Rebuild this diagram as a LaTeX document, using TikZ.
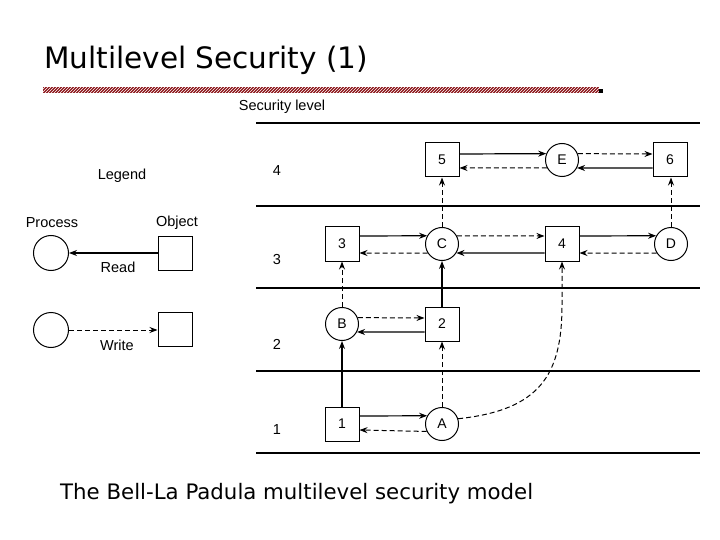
\documentclass[tikz,border=0pt]{standalone}
\usepackage{fontspec}
\setmainfont{Liberation Sans}
\newfontfamily\titlefont{DejaVu Sans}
\usetikzlibrary{arrows.meta,patterns}
\definecolor{barred}{RGB}{140,20,25}
\tikzset{
  box/.style={draw,line width=1pt,minimum size=34pt,inner sep=0pt,font=\fontsize{14}{16}\selectfont},
  proc/.style={draw,circle,line width=1pt,minimum size=33pt,inner sep=0pt,font=\fontsize{14}{16}\selectfont},
  rd/.style={line width=1.2pt,-{Stealth[length=8pt,width=6pt]}},
  wr/.style={line width=1pt,dash pattern=on 5pt off 3pt,-{Stealth[length=8pt,width=6pt]}},
  lvl/.style={line width=1.6pt},
  lab/.style={font=\fontsize{14.5}{16}\selectfont,inner sep=0pt}
}
\begin{document}
\begin{tikzpicture}[x=1pt,y=-1pt]
\useasboundingbox (0,0) rectangle (720,540);
% title
\node[anchor=west,inner sep=0pt,font=\titlefont\fontsize{29.5}{34}\selectfont] (title) at (44,60) {Multilevel Security (1)};
\fill[barred] (43,87) rectangle (599,93);
\fill[pattern=north east lines,pattern color=white] (43,87) rectangle (599,93);
\fill[black] (599,89) rectangle (603,93);
% level lines
\foreach \y in {123,206,288,371,453} \draw[lvl] (256,\y) -- (700,\y);
\node[lab] (sl) at (282,107) {Security level};
\node[lab] (l4) at (277,171) {4};
\node[lab] (l3) at (277,260) {3};
\node[lab] (l2) at (277,344) {2};
\node[lab] (l1) at (277,430) {1};
% legend
\node[lab] (leg) at (122,176) {Legend};
\node[lab] (lp) at (52,223) {Process};
\node[lab] (lo) at (177,223) {Object};
\node[proc,minimum size=35pt] (pc1) at (51,253) {};
\node[box] (ob1) at (175,253) {};
\node[proc,minimum size=35pt] (pc2) at (51,330) {};
\node[box] (ob2) at (175,329) {};
\draw[rd] (ob1.west) -- (pc1.east);
\draw[wr] (pc2.east) -- (pc2.east -| ob2.west);
\node[lab] (lr) at (118,267) {Read};
\node[lab] (lw) at (117,345) {Write};
% nodes
\node[box] (b5) at (442,160) {5};
\node[proc] (E) at (562,160) {E};
\node[box] (b6) at (670,160) {6};
\node[box] (b3) at (342,244) {3};
\node[proc] (C) at (442,244) {C};
\node[box] (b4) at (562,244) {4};
\node[proc] (D) at (671,244) {D};
\node[proc] (B) at (342,324) {B};
\node[box] (b2) at (442,324) {2};
\node[box] (b1) at (342,424) {1};
\node[proc] (A) at (442,424) {A};
% horizontal arrows
\draw[rd] ([yshift=6pt]b5.east) -- (E.158);
\draw[wr] (E.208) -- ([yshift=-8pt]b5.east);
\draw[wr] (E.22) -- ([yshift=6pt]b6.west);
\draw[rd] ([yshift=-8pt]b6.west) -- (E.332);
\draw[rd] ([yshift=8pt]b3.east) -- (C.151);
\draw[wr] (C.212) -- ([yshift=-9pt]b3.east);
\draw[wr] (C.29) -- ([yshift=8pt]b4.west);
\draw[rd] ([yshift=-9pt]b4.west) -- (C.328);
\draw[rd] ([yshift=8pt]b4.east) -- (D.151);
\draw[wr] (D.212) -- ([yshift=-9pt]b4.east);
\draw[wr] (B.22) -- ([yshift=6pt]b2.west);
\draw[rd] ([yshift=-8pt]b2.west) -- (B.332);
\draw[rd] ([yshift=8pt]b1.east) -- (A.151);
\draw[wr] (A.206) -- ([yshift=-6pt]b1.east);
% vertical arrows
\draw[rd] (b1.north) -- (B.south);
\draw[wr] (B.north) -- (b3.south);
\draw[wr] (A.north) -- (b2.south);
\draw[rd] (b2.north) -- (C.south);
\draw[wr] (C.north) -- (b5.south);
\draw[wr] (D.north) -- (D.north |- b6.south);
\draw[wr] (A.18) .. controls (540,410) and (562,375) .. (562,305) -- (b4.south);
% caption
\node[anchor=west,inner sep=0pt,font=\titlefont\fontsize{21.3}{24}\selectfont] (cap) at (60,494) {The Bell-La Padula multilevel security model};
\end{tikzpicture}
\end{document}
